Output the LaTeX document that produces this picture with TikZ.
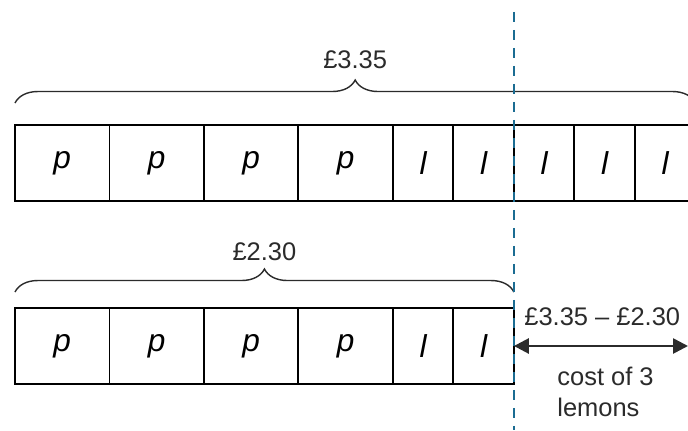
\documentclass[tikz,border=0pt]{standalone}
\usepackage{fontspec}
\setmainfont{Liberation Sans}
\usetikzlibrary{arrows.meta,positioning}
\usetikzlibrary{decorations.pathreplacing}

\definecolor{dashblue}{HTML}{1B6C92}
\definecolor{txtgray}{HTML}{2B2B2B}

\begin{document}
\begin{tikzpicture}[x=0.02cm, y=0.02cm, node distance=0pt,
        every node/.style={font=\fontsize{14.5}{18}\selectfont},
        cell/.style={draw, line width=1.1pt, outer sep=0pt, minimum height=1.52cm,
            font=\fontsize{18}{20}\selectfont\itshape},
        pbox/.style={cell, minimum width=1.89cm},
        lbox/.style={cell, minimum width=1.21cm},
        bracetop/.style={decorate, decoration={brace, amplitude=0.46cm}, line width=0.8pt, txtgray}]
    \useasboundingbox (0,0) rectangle (688,430);

    % top bar: 4 pears and 5 lemons
    \node[pbox, anchor=west] (t1) at (15,267) {p};
    \node[pbox, right=of t1] (t2) {p};
    \node[pbox, right=of t2] (t3) {p};
    \node[pbox, right=of t3] (t4) {p};
    \node[lbox, right=of t4] (t5) {l};
    \node[lbox, right=of t5] (t6) {l};
    \node[lbox, right=of t6] (t7) {l};
    \node[lbox, right=of t7] (t8) {l};
    \node[lbox, right=of t8] (t9) {l};

    % bottom bar: 4 pears and 2 lemons
    \node[pbox, anchor=west] (b1) at (15,84) {p};
    \node[pbox, right=of b1] (b2) {p};
    \node[pbox, right=of b2] (b3) {p};
    \node[pbox, right=of b3] (b4) {p};
    \node[lbox, right=of b4] (b5) {l};
    \node[lbox, right=of b5] (b6) {l};

    % braces
    \draw[bracetop] ([yshift=0.44cm]t1.north west) -- ([yshift=0.44cm]t9.north east)
        node[midway, above=0.55cm, txtgray] (total) {£3.35};
    \draw[bracetop] ([yshift=0.32cm]b1.north west) -- ([yshift=0.32cm]b6.north east)
        node[midway, above=0.5cm, txtgray] (part) {£2.30};

    % dashed divider
    \coordinate (dtop) at (514,418);
    \coordinate (dbot) at (514,0);
    \draw[dashblue, line width=1.2pt, dash pattern=on 0.2cm off 0.16cm] (dtop) -- (dbot);

    % difference arrow
    \coordinate (aend) at (688,84);
    \draw[txtgray, line width=1.5pt, {Triangle[length=0.3cm,width=0.3cm]}-{Triangle[length=0.3cm,width=0.3cm]}]
        (b6.east) -- (aend);
    \node[txtgray, anchor=west, inner sep=0pt] (diff) at (524,113) {£3.35 – £2.30};
    \node[txtgray, anchor=west, inner sep=0pt, align=left] (cost) at (557,38) {cost of 3\\lemons};
\end{tikzpicture}
\end{document}
